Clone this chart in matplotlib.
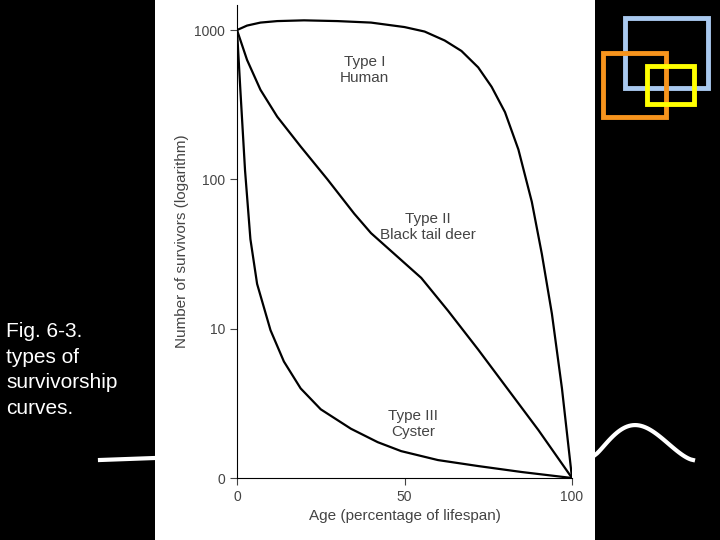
import numpy as np
import matplotlib.pyplot as plt
from matplotlib.patches import Rectangle

plt.rcParams['font.family'] = ['Liberation Sans', 'DejaVu Sans']

# survivor curves, age in % of lifespan, survivors as log10
age1 = [0, 3, 7, 12, 20, 30, 40, 50, 56, 62, 67, 72, 76, 80, 84, 88, 91, 94, 97, 100]
type1 = [3.0, 3.03, 3.05, 3.06, 3.065, 3.06, 3.05, 3.02, 2.99, 2.93, 2.86, 2.75, 2.62, 2.45, 2.2, 1.85, 1.5, 1.1, 0.6, 0.0]
age2 = [0, 3, 7, 12, 19, 27, 35, 40, 47, 55, 63, 72, 80, 90, 95, 100]
type2 = [3.0, 2.8, 2.6, 2.42, 2.22, 2.0, 1.77, 1.64, 1.5, 1.34, 1.12, 0.86, 0.62, 0.32, 0.16, 0.0]
age3 = [0, 1, 2.4, 4, 6, 10, 14, 19, 25, 34, 42, 49, 60, 72, 85, 100]
type3 = [3.0, 2.6, 2.06, 1.6, 1.3, 0.99, 0.78, 0.6, 0.46, 0.33, 0.24, 0.18, 0.12, 0.08, 0.04, 0.0]
yticks = [0, 1, 2, 3]
ytick_labels = ["0", "10", "100", "1000"]
xticks = [0, 50, 100]

fig = plt.figure(figsize=(7.2, 5.4), dpi=100, facecolor="black")
panel = Rectangle((155 / 720, 0), 440 / 720, 1, transform=fig.transFigure,
                  facecolor="white", zorder=-5)
fig.patches.append(panel)

ax = fig.add_axes([237 / 720, 62 / 540, 335 / 720, 473 / 540])
ax.set_facecolor("none")
ax.plot(age1, type1, color="black", lw=1.6)
ax.plot(age2, type2, color="black", lw=1.6)
ax.plot(age3, type3, color="black", lw=1.6)
ax.set_xlim(0, 100)
ax.set_ylim(0, 3 + 25 / 149)
ax.spines["top"].set_visible(False)
ax.spines["right"].set_visible(False)
ax.set_yticks(yticks)
ax.set_yticklabels(ytick_labels)
ax.set_xticks(xticks)
ax.tick_params(colors="#444444", labelsize=10, length=5)
ax.set_ylabel("Number of survivors (logarithm)", color="#444444", fontsize=11)
ax.set_xlabel("Age (percentage of lifespan)", color="#444444", fontsize=11)

ax.text(38, 2.73, "Type I\nHuman", ha="center", va="center", color="#444444", fontsize=11)
ax.text(57, 1.68, "Type II\nBlack tail deer", ha="center", va="center", color="#444444", fontsize=11)
ax.text(52.5, 0.36, "Type III\nCyster", ha="center", va="center", color="#444444", fontsize=11)

fig.text(6 / 720, 1 - 370 / 540, "Fig. 6-3.\ntypes of\nsurvivorship\ncurves.",
         color="white", fontsize=15, va="center", ha="left", linespacing=1.45)

# decorations
for (x0, y0, x1, y1, c) in [(625, 18, 708, 88, "#a9c9ef"), (603, 53, 666, 117, "#f7941d"),
                            (647, 66, 694, 104, "#ffff00")]:
    fig.patches.append(Rectangle((x0 / 720, 1 - y1 / 540), (x1 - x0) / 720, (y1 - y0) / 540,
                                 transform=fig.transFigure, fill=False, edgecolor=c, lw=3.5))
fig.lines.append(plt.Line2D([100 / 720, 155 / 720], [1 - 460 / 540, 1 - 458 / 540],
                            transform=fig.transFigure, color="white", lw=3, zorder=-4))
t = np.linspace(0, 1, 50)
cx = 595 + 98 * t
cy = 455 - 32 * np.sin(np.pi * t ** 0.8) ** 1.5 + 5 * t
fig.lines.append(plt.Line2D(cx / 720, 1 - cy / 540, transform=fig.transFigure, color="white", lw=3))

fig.savefig("out.png", dpi=100, facecolor="black")
